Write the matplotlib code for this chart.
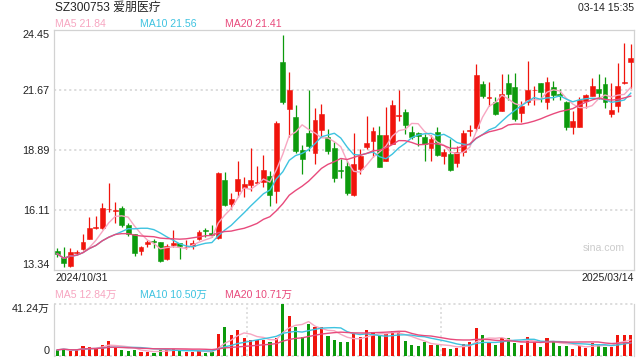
import matplotlib
matplotlib.use('Agg')
import matplotlib.pyplot as plt
import numpy as np
import pandas as pd

plt.rcParams['font.family'] = ['Liberation Sans', 'Noto Sans CJK SC', 'DejaVu Sans']

opens = [14.20, 13.92, 13.51, 14.10, 14.30, 14.77, 15.25, 15.26, 16.12, 16.06,
         16.20, 15.39, 14.97, 14.21, 14.53, 14.64, 14.61, 13.84, 14.47, 14.55,
         14.38, 14.43, 14.77, 15.15, 15.03, 14.78, 17.48, 16.37, 16.99, 17.10,
         17.26, 17.36, 17.38, 17.68, 16.99, 22.96, 20.76, 20.39, 18.89, 19.66,
         18.72, 19.81, 19.49, 18.96, 17.94, 18.11, 16.80, 17.99, 19.00, 19.29,
         19.57, 18.38, 19.15, 20.44, 20.62, 19.69, 19.66, 19.46, 18.95, 19.69,
         18.61, 18.69, 18.27, 18.76, 19.75, 19.89, 21.93, 21.30, 21.11, 20.69,
         21.97, 21.77, 20.60, 21.11, 21.63, 21.97, 21.08, 21.77, 21.46, 21.11,
         19.95, 19.95, 21.15, 21.39, 21.70, 21.93, 20.55, 20.92, 21.99, 22.96]
highs = [14.32, 14.39, 14.35, 14.24, 14.98, 15.76, 15.82, 16.43, 17.36, 16.46,
         16.28, 15.48, 15.00, 14.43, 14.70, 14.77, 14.63, 14.52, 15.17, 14.58,
         14.70, 14.70, 15.17, 15.25, 15.41, 17.87, 17.87, 16.87, 18.35, 17.61,
         18.96, 18.12, 18.64, 17.91, 20.20, 24.20, 22.50, 20.95, 19.10, 21.65,
         20.80, 21.00, 19.84, 19.23, 18.45, 18.38, 19.66, 18.92, 20.46, 19.92,
         19.97, 20.85, 21.20, 21.66, 20.77, 20.00, 19.72, 19.61, 19.57, 19.92,
         18.92, 19.38, 19.07, 19.81, 20.03, 22.85, 22.08, 22.01, 21.31, 22.39,
         22.39, 22.44, 21.15, 22.99, 21.82, 21.99, 22.24, 22.05, 21.70, 21.13,
         20.69, 21.31, 21.46, 22.19, 22.39, 22.24, 21.97, 22.90, 23.83, 23.78]
lows = [13.93, 13.47, 13.47, 14.00, 14.24, 14.75, 15.20, 15.23, 16.00, 15.51,
        15.32, 14.89, 13.98, 14.01, 14.39, 14.32, 13.69, 13.78, 14.39, 13.84,
        14.27, 14.27, 14.70, 14.83, 14.83, 14.75, 16.30, 16.14, 16.68, 16.68,
        16.99, 17.30, 17.14, 16.29, 16.40, 21.00, 19.49, 18.73, 17.76, 18.84,
        18.22, 19.51, 18.69, 17.40, 17.59, 16.81, 16.75, 17.76, 18.92, 18.56,
        18.08, 18.36, 19.13, 20.23, 19.61, 19.38, 19.07, 18.38, 18.38, 18.58,
        18.22, 17.91, 18.07, 18.61, 19.53, 19.76, 21.28, 20.92, 20.49, 20.67,
        21.19, 20.23, 20.18, 20.95, 20.95, 21.08, 20.77, 21.20, 21.20, 19.80,
        19.60, 19.92, 20.80, 21.37, 21.23, 20.80, 20.39, 20.62, 21.93, 21.75]
closes = [14.07, 13.65, 14.15, 14.13, 14.61, 15.26, 15.30, 16.19, 16.15, 16.09,
          15.39, 15.00, 14.12, 14.38, 14.61, 14.62, 13.75, 14.41, 14.58, 14.43,
          14.40, 14.55, 15.06, 15.13, 14.94, 17.81, 16.34, 16.60, 17.53, 17.30,
          17.48, 17.39, 17.95, 16.80, 20.12, 21.11, 21.65, 18.84, 18.47, 19.07,
          20.26, 20.54, 18.81, 17.59, 17.92, 16.89, 18.22, 18.61, 19.20, 19.75,
          18.10, 19.57, 20.95, 20.47, 20.03, 19.49, 19.51, 19.15, 19.38, 18.64,
          18.79, 17.96, 18.79, 19.66, 19.78, 22.34, 21.39, 21.32, 20.54, 21.46,
          21.46, 20.31, 20.89, 21.65, 21.66, 21.54, 22.01, 21.43, 21.39, 19.95,
          20.21, 21.20, 21.42, 21.85, 21.51, 21.11, 20.74, 21.85, 22.02, 23.13]
volumes = [4.5, 5.6, 3.6, 4.5, 7.8, 6.7, 6.4, 8.6, 12.0, 6.4,
           4.5, 3.6, 4.5, 2.8, 2.8, 2.0, 4.5, 5.6, 5.6, 4.2,
           3.1, 3.1, 3.6, 2.0, 3.1, 17.3, 22.8, 16.2, 20.3, 13.7,
           12.8, 12.8, 12.8, 11.1, 13.7, 41.24, 32.0, 22.8, 14.5, 25.4,
           22.8, 22.8, 15.3, 12.8, 11.1, 11.1, 17.3, 14.5, 20.3, 18.7,
           16.2, 17.3, 19.5, 18.7, 12.0, 8.6, 7.8, 11.1, 8.6, 8.6,
           6.1, 5.3, 6.1, 9.5, 11.1, 22.0, 16.2, 11.1, 8.6, 13.7,
           13.7, 10.3, 8.6, 14.5, 11.1, 7.0, 13.7, 11.1, 7.8, 7.8,
           5.3, 7.5, 6.1, 10.3, 9.5, 7.0, 7.0, 16.2, 16.2, 16.2]

price_ticks = [13.34, 16.11, 18.89, 21.67, 24.45]
vol_max = 41.24
title = 'SZ300753 爱朋医疗'
stamp = '03-14 15:35'
start_label = '2024/10/31'
end_label = '2025/03/14'
ma_labels = ['MA5 21.84', 'MA10 21.56', 'MA20 21.41']
vol_ma_labels = ['MA5 12.84万', 'MA10 10.50万', 'MA20 10.71万']

RED = '#f0140c'
GREEN = '#0c9a0c'
MA_COLORS = ['#f7a6c1', '#3ec3e0', '#e84a7c']
BORDER = '#d2d2d2'
GRID = '#dadada'

o = np.array(opens); h = np.array(highs); l = np.array(lows); c = np.array(closes)
v = np.array(volumes)
n = len(o)
x = np.arange(n)
up = c >= o
cols = [RED if u else GREEN for u in up]

W, H = 640, 360
fig = plt.figure(figsize=(6.4, 3.6), dpi=100)

def rect(x0, y0, x1, y1):
    return [x0 / W, 1 - y1 / H, (x1 - x0) / W, (y1 - y0) / H]

ax = fig.add_axes(rect(54, 29.5, 634, 269.5))
axv = fig.add_axes(rect(54, 304, 634, 355.5))

# price panel
for t in price_ticks[1:-1]:
    ax.axhline(t, color=GRID, lw=1.3, ls=(0, (1.2, 1.6)), zorder=0)
ax.vlines(x, l, h, colors=cols, linewidth=0.9, zorder=2)
ax.bar(x, np.maximum(np.abs(c - o), 0.015), bottom=np.minimum(o, c), width=0.75,
       color=cols, edgecolor=cols, linewidth=0.4, zorder=3)
s = pd.Series(c)
for win, col in zip([5, 10, 20], MA_COLORS):
    ax.plot(x, s.rolling(win, min_periods=1).mean(), color=col, lw=1.0, zorder=4)
ax.set_xlim(-0.5, n - 0.5)
ax.set_ylim(price_ticks[0], price_ticks[-1])
ax.set_yticks(price_ticks)
ax.set_yticklabels([f'{t:.2f}' for t in price_ticks])
labs = ax.get_yticklabels()
labs[0].set_va('bottom')
labs[-1].set_va('top')
ax.tick_params(axis='y', length=0, pad=3, labelsize=7.8, labelcolor='#222222')
ax.set_xticks([])
for sp in ax.spines.values():
    sp.set_color(BORDER)
    sp.set_linewidth(0.9)
ax.text(0.9835, 0.09, 'sina.com', transform=ax.transAxes, ha='right', va='center',
        color='#cccccc', fontsize=7.6)

# volume panel
vs = pd.Series(v)
axv.bar(x, v, width=0.5, color=cols, zorder=2)
for win, col in zip([5, 10, 20], MA_COLORS):
    axv.plot(x, vs.rolling(win, min_periods=1).mean(), color=col, lw=1.0, zorder=3)
axv.set_xlim(-0.5, n - 0.5)
axv.set_ylim(0, vol_max)
for xv in [n / 3 - 0.5, 2 * n / 3 - 0.5]:
    axv.axvline(xv, color=GRID, lw=1.2, ls=(0, (1.2, 1.6)), zorder=0)
axv.axhline(vol_max, color=GRID, lw=1.3, ls=(0, (1.2, 1.6)), clip_on=False, zorder=0)
axv.axhline(0, color=GRID, lw=1.3, ls=(0, (1.2, 1.6)), clip_on=False, zorder=0)
axv.spines['top'].set_visible(False)
axv.spines['bottom'].set_visible(False)
for k in ['left', 'right']:
    axv.spines[k].set_color(BORDER)
    axv.spines[k].set_linewidth(0.9)
axv.set_yticks([0, vol_max])
axv.set_yticklabels(['0', f'{vol_max:.2f}万'])
vl = axv.get_yticklabels()
vl[0].set_va('bottom')
vl[1].set_va('top')
axv.tick_params(axis='y', length=0, pad=3, labelsize=7.8, labelcolor='#222222')
axv.set_xticks([])

# texts
fig.text(55 / W, 1 - 8 / H, title, ha='left', va='center', fontsize=8.6, color='#222222')
fig.text(634 / W, 1 - 8 / H, stamp, ha='right', va='center', fontsize=7.6, color='#222222')
for xp, txt, col in zip([55, 140, 225], ma_labels, MA_COLORS):
    fig.text(xp / W, 1 - 24 / H, txt, ha='left', va='center', fontsize=7.6, color=col)
fig.text(55 / W, 1 - 278 / H, start_label, ha='left', va='center', fontsize=7.6, color='#222222')
fig.text(634 / W, 1 - 278 / H, end_label, ha='right', va='center', fontsize=7.6, color='#222222')
for xp, txt, col in zip([55, 140, 225], vol_ma_labels, MA_COLORS):
    fig.text(xp / W, 1 - 294.5 / H, txt, ha='left', va='center', fontsize=7.6, color=col)

fig.savefig('out.png', dpi=100)
